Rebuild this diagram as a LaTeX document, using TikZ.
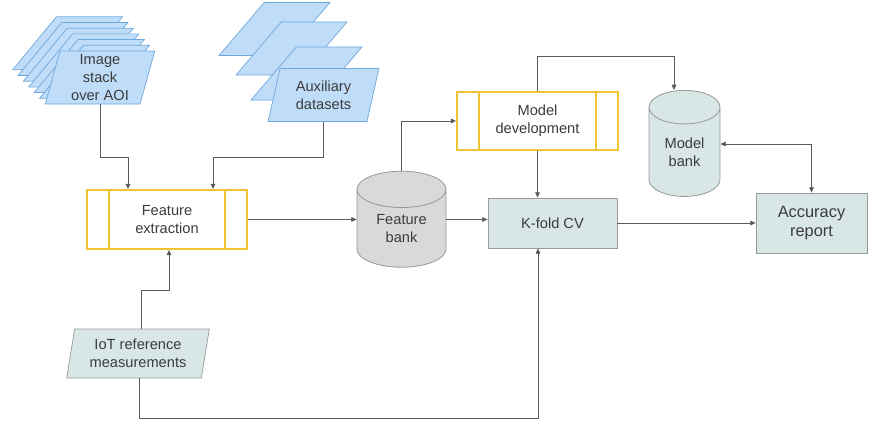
\documentclass[tikz,border=0pt]{standalone}
\usepackage{fontspec}
\setmainfont{Liberation Sans}
\usetikzlibrary{shapes.geometric,arrows.meta}
\definecolor{datablue}{HTML}{BFDCF9}
\definecolor{dataedge}{HTML}{6FA8DC}
\definecolor{procgold}{HTML}{F1C232}
\definecolor{boxteal}{HTML}{D8E6E6}
\definecolor{bankgray}{HTML}{D9D9D9}
\definecolor{edgegray}{HTML}{9A9A9A}
\definecolor{linegray}{HTML}{5A5A5A}
\definecolor{txtgray}{HTML}{3C3C3C}
\tikzset{
  data/.style={trapezium, trapezium left angle=77, trapezium right angle=103,
    trapezium stretches=true, draw=dataedge, fill=datablue, line width=0.6pt,
    minimum width=3.3cm, minimum height=1.59cm, align=center, inner sep=1pt},
  process/.style={rectangle, draw=procgold, line width=1.6pt, fill=white, align=center},
  box/.style={rectangle, draw=edgegray, fill=boxteal, line width=0.7pt, align=center},
  bank/.style={cylinder, shape border rotate=90, aspect=0.72, draw=edgegray,
    line width=0.7pt, align=center, inner sep=0pt},
  link/.style={draw=linegray, line width=0.7pt, -{Triangle[length=4.5pt,width=4pt]}}
}

\begin{document}
\begin{tikzpicture}[x=0.03cm, y=-0.03cm,
  every node/.style={font=\fontsize{12.5}{15}\selectfont, text=txtgray}]
  \useasboundingbox (0,0) rectangle (869,423);

  % inputs
  \foreach \i in {6,...,1}
    \node[data] at (100-5.4*\i, 77.5-5.7*\i) {\strut};
  \node[data] (img) at (100,77.5) {Image\\stack\\over AOI};
  \foreach \dx/\dy in {-49/-66,-32/-46.5,-17/-21.5}
    \node[data, minimum width=3.33cm, trapezium left angle=75.5, trapezium right angle=104.5]
      at (323.5+\dx, 95+\dy) {\strut};
  \node[data, minimum width=3.33cm, trapezium left angle=75.5, trapezium right angle=104.5]
    (aux) at (323.5,95) {Auxiliary\\datasets};
  \node[data, fill=boxteal, draw=edgegray, minimum width=4.32cm, minimum height=1.47cm,
    trapezium left angle=78.5, trapezium right angle=101.5] (iot) at (138,353.5)
    {IoT reference\\measurements};

  % processing
  \node[process, minimum width=4.8cm, minimum height=1.77cm] (fx) at (167,219.5)
    {Feature\\extraction};
  \node[process, minimum width=4.83cm, minimum height=1.74cm] (md) at (537.5,121)
    {Model\\development};
  \foreach \n in {fx,md} {
    \draw[procgold, line width=1.6pt] ([xshift=0.68cm]\n.north west) -- ([xshift=0.68cm]\n.south west);
    \draw[procgold, line width=1.6pt] ([xshift=-0.68cm]\n.north east) -- ([xshift=-0.68cm]\n.south east);
  }

  % banks and results
  \node[bank, fill=bankgray, minimum width=2.67cm, minimum height=2.88cm] (fb) at (401.5,228.5)
    {Feature\\bank};
  \node[bank, fill=boxteal, aspect=0.84, minimum width=2.13cm, minimum height=3.18cm] (mb)
    at (684.5,152) {Model\\bank};
  \node[box, minimum width=3.87cm, minimum height=1.5cm] (kf) at (552.5,223) {K-fold CV};
  \node[box, minimum width=3.33cm, minimum height=1.8cm,
    font=\fontsize{14}{16.5}\selectfont] (ac) at (811.5,223) {Accuracy\\report};

  % connectors
  \draw[link] (img.south) |- (128,157) -- (128,0 |- fx.north);
  \draw[link] (aux.south) |- (213,157) -- (213,0 |- fx.north);
  \draw[link] (141,0 |- iot.north) |- (169,290) -- (169,0 |- fx.south);
  \draw[link] (139,0 |- iot.south) |- (538,418) -- (538,0 |- kf.south);
  \draw[link] (fx.east) -- (fx.east -| fb.west);
  \draw[link] (fb.east |- fx.east) -- (fx.east -| kf.west);
  \draw[link] (fb.north) |- (md.west);
  \draw[link] (md.south) -- (md.south |- kf.north);
  \draw[link] (md.north) |- (674,56) -- (674,0 |- mb.north);
  \draw[link, {Triangle[length=4.5pt,width=4pt]}-{Triangle[length=4.5pt,width=4pt]}]
    ([yshift=0.24cm]mb.east) -| (ac.north);
  \draw[link] (kf.east) -- (ac.west);
\end{tikzpicture}
\end{document}
